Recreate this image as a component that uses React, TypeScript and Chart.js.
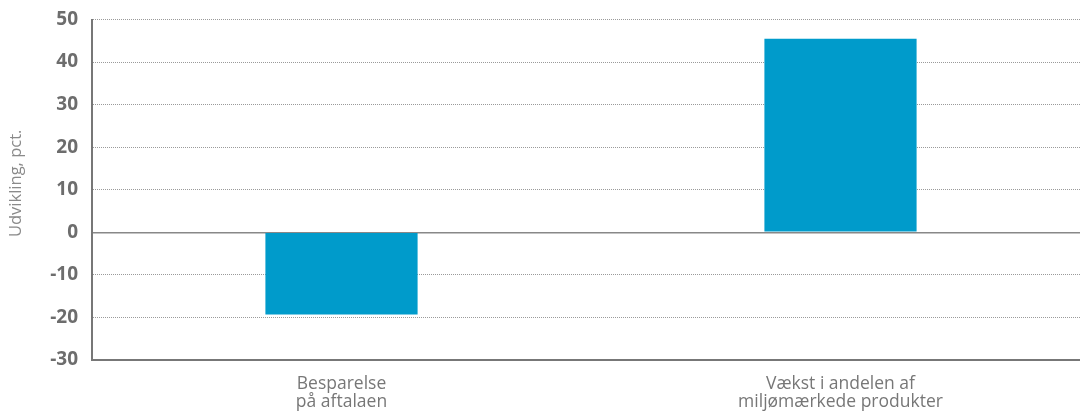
import React, { useEffect, useRef } from "react";
import { Chart, registerables } from "chart.js";

Chart.register(...registerables);

const categories: string[][] = [
  ["Besparelse", "på aftalaen"],
  ["Vækst i andelen af", "miljømærkede produkter"],
];
const values: number[] = [-19.3, 45.5];
const yTicks: number[] = [-30, -20, -10, 0, 10, 20, 30, 40, 50];
const yTitle = "Udvikling, pct.";

export default function App() {
  const ref = useRef<HTMLCanvasElement>(null);
  useEffect(() => {
    document.body.style.overflow = "hidden";
    const chart = new Chart(ref.current!, {
      type: "bar",
      data: {
        labels: categories,
        datasets: [
          {
            data: values,
            backgroundColor: "#009bcb",
            borderWidth: 0,
            categoryPercentage: 1,
            barPercentage: 0.305,
          },
        ],
      },
      options: {
        animation: false,
        responsive: false,
        maintainAspectRatio: false,
        layout: { padding: { top: 19.5, right: 0, bottom: 0, left: 0 } },
        plugins: { legend: { display: false }, tooltip: { enabled: false } },
        scales: {
          x: {
            grid: { display: false, drawTicks: false },
            border: { display: true, color: "#777", width: 2 },
            ticks: {
              color: "#777",
              padding: 15,
              font: { family: "'Open Sans'", size: 17.5, lineHeight: 1.03 },
            },
            afterFit: (s: any) => {
              s.height = 57;
              s.paddingLeft = 0;
              s.paddingRight = 0;
            },
          },
          y: {
            min: -30,
            max: 50,
            afterBuildTicks: (s: any) => {
              s.ticks = yTicks.map((v) => ({ value: v }));
            },
            grid: {
              drawTicks: false,
              color: (c: any) => (c.tick && c.tick.value === 0 ? "#888" : "#9a9a9a"),
              lineWidth: (c: any) => (c.tick && c.tick.value === 0 ? 1.5 : 1),
            },
            border: {
              display: true,
              color: "#777",
              width: 2,
              dash: (c: any) => (c.tick && c.tick.value === 0 ? [] : [1, 1]),
            },
            ticks: {
              color: "#6d6d6d",
              padding: 14,
              font: { family: "'Open Sans'", size: 19, weight: "bold" },
            },
            title: {
              display: true,
              text: "\u00a0\u00a0\u00a0" + yTitle,
              color: "#8a8a8a",
              padding: { top: 6, bottom: 0 },
              font: { family: "'Open Sans'", size: 16.5 },
            },
            afterFit: (s: any) => {
              s.width = 92;
              s.paddingTop = 0;
              s.paddingBottom = 0;
            },
          },
        },
      },
    });
    return () => chart.destroy();
  }, []);
  return (
    <div style={{ position: "fixed", left: 0, top: 0, width: 1090, height: 417 }}>
      <canvas ref={ref} width={1090} height={417} />
    </div>
  );
}
